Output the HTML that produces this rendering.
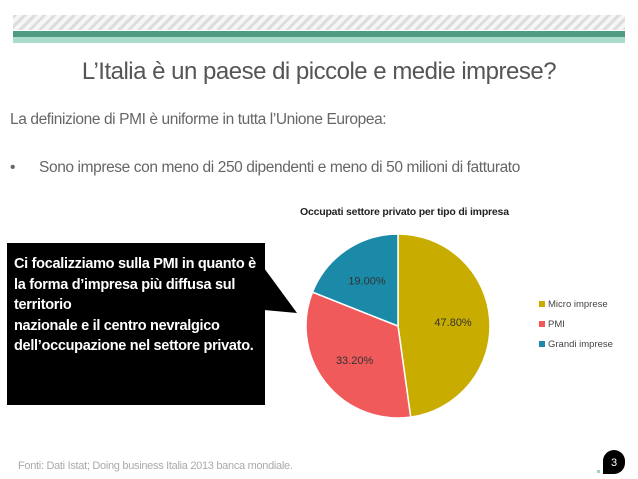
<!DOCTYPE html>
<html><head><meta charset="utf-8"><style>
body{margin:0;width:638px;height:479px;background:#fff;position:relative;overflow:hidden;font-family:"Liberation Sans",sans-serif}
.abs{position:absolute}
</style></head><body>
<div class="abs" style="left:13px;top:15px;width:612px;height:15px;background:repeating-linear-gradient(135deg,#ddd 0 3px,#f6f6f6 3px 7px)"></div>
<div class="abs" style="left:13px;top:31px;width:612px;height:6px;background:#4f9a80"></div>
<div class="abs" style="left:13px;top:37px;width:612px;height:6px;background:#a9dcca"></div>
<div class="abs" style="left:0;top:58px;width:638px;text-align:center;font-size:24px;color:#555;letter-spacing:-0.5px">L’Italia è un paese di piccole e medie imprese?</div>
<div class="abs" style="left:10px;top:111px;font-size:15.5px;color:#666;letter-spacing:-0.4px">La definizione di PMI è uniforme in tutta l’Unione Europea:</div>
<div class="abs" style="left:10px;top:159px;font-size:15.5px;color:#666;letter-spacing:-0.4px">•<span style="margin-left:24px">Sono imprese con meno di 250 dipendenti e meno di 50 milioni di fatturato</span></div>
<svg class="abs" style="left:0;top:0" width="638" height="479">
<rect x="7" y="243" width="258" height="162" fill="#000"/>
<polygon points="264,268 297,313 264,310" fill="#000"/>
</svg>
<div class="abs" style="left:14px;top:254px;width:250px;font-size:14.5px;line-height:20.5px;color:#fff;font-weight:bold;letter-spacing:-0.3px">Ci focalizziamo sulla PMI in quanto è&nbsp; la forma d’impresa più diffusa sul territorio<br>nazionale e il centro nevralgico dell’occupazione nel settore privato.</div>
<div class="abs" style="left:300px;top:206px;font-size:10.5px;font-weight:bold;color:#222;letter-spacing:-0.2px">Occupati settore privato per tipo di impresa</div>
<svg id="pie" class="abs" style="left:0;top:0" width="638" height="479"></svg>
<div class="abs" style="left:18px;top:460px;font-size:11px;color:#aaa;letter-spacing:-0.3px">Fonti: Dati Istat; Doing business Italia 2013 banca mondiale.</div>
<div class="abs" style="left:603px;top:450px;width:22px;height:24px;background:#000;border-radius:11px 11px 11px 0;color:#fff;font-size:11px;text-align:center;line-height:26px">3</div>
<div class="abs" style="left:597px;top:470px;width:3px;height:3px;background:#9cd4c2"></div>
<script>
const categories=["Micro imprese","PMI","Grandi imprese"];
const values=[47.8,33.2,19.0];
const labels=["47.80%","33.20%","19.00%"];
const colors=["#c9ac00","#f05a5a","#1a8aa8"];
const svg=document.getElementById('pie');const NS="http://www.w3.org/2000/svg";
const cx=398,cy=326,r=92;
const total=values.reduce((a,b)=>a+b,0);
let a0=0;
values.forEach((v,i)=>{
  const a1=a0+v/total*2*Math.PI;
  const p=(a)=>[cx+r*Math.sin(a),cy-r*Math.cos(a)];
  const [x0,y0]=p(a0),[x1,y1]=p(a1);
  const path=document.createElementNS(NS,'path');
  path.setAttribute('d',`M${cx},${cy}L${x0},${y0}A${r},${r} 0 ${a1-a0>Math.PI?1:0} 1 ${x1},${y1}Z`);
  path.setAttribute('fill',colors[i]);path.setAttribute('stroke','#fff');path.setAttribute('stroke-width','1.5');
  
  
  svg.appendChild(path);
  const m=(a0+a1)/2,lr=r*0.6;
  const t=document.createElementNS(NS,'text');
  t.setAttribute('x',cx+lr*Math.sin(m));t.setAttribute('y',cy-lr*Math.cos(m)+4);
  t.setAttribute('text-anchor','middle');t.setAttribute('font-size','11');t.setAttribute('fill','#333');
  t.setAttribute('font-family','Liberation Sans, sans-serif');
  t.textContent=labels[i];
  
  
  svg.appendChild(t);
  const ly=307+i*20;
  const sq=document.createElementNS(NS,'rect');
  sq.setAttribute('x',539);sq.setAttribute('y',ly-6);sq.setAttribute('width',6);sq.setAttribute('height',6);sq.setAttribute('fill',colors[i]);
  
  
  svg.appendChild(sq);
  const lt=document.createElementNS(NS,'text');
  lt.setAttribute('x',548);lt.setAttribute('y',ly);lt.setAttribute('font-size','9.5');lt.setAttribute('fill','#444');
  lt.setAttribute('font-family','Liberation Sans, sans-serif');
  lt.textContent=categories[i];
  
  
  svg.appendChild(lt);
  a0=a1;
});
</script>
</body></html>
